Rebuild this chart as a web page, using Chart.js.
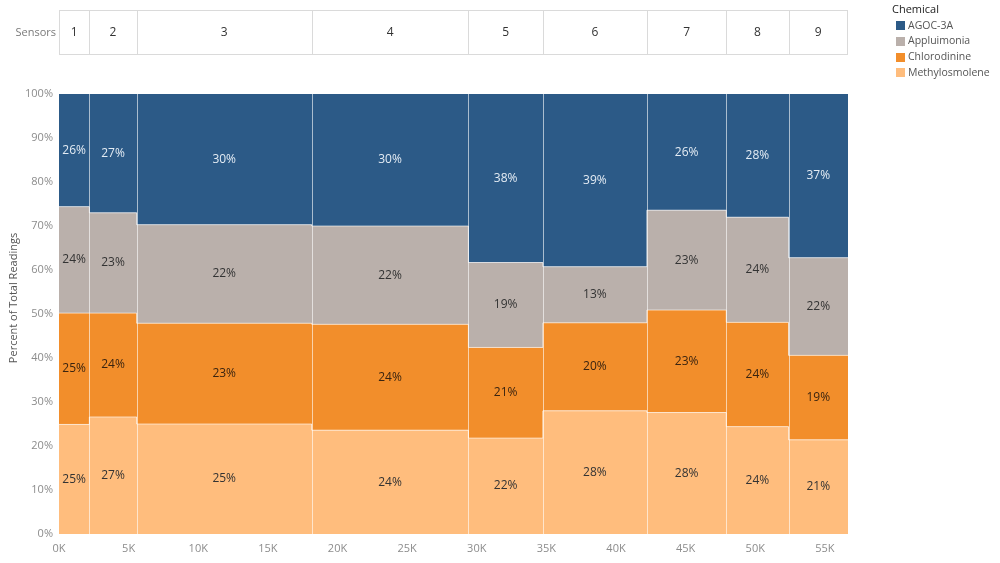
<!DOCTYPE html>
<html><head><meta charset="utf-8">
<script src="https://cdn.jsdelivr.net/npm/chart.js@4.4.1/dist/chart.umd.min.js"></script>
<style>html,body{margin:0;padding:0;background:#fff;} #wrap{position:relative;width:1000px;height:563px;}</style>
</head><body><div id="wrap"><canvas id="c" width="1000" height="563"></canvas></div>
<script>
// ---- data ----
const sensors = ['1','2','3','4','5','6','7','8','9'];
const sensorReadings = [2180, 3400, 12570, 11250, 5350, 7470, 5700, 4470, 4270];
const chemicals = ['AGOC-3A','Appluimonia','Chlorodinine','Methylosmolene'];
const agoc3a        = [25.6, 27.0, 29.7, 30.0, 38.3, 39.25, 26.4, 28.0, 37.2];
const appluimonia   = [24.2, 22.8, 22.4, 22.35, 19.3, 12.75, 22.7, 23.9, 22.2];
const chlorodinine  = [25.3, 23.6, 22.9, 24.05, 20.6, 20.0, 23.3, 23.7, 19.2];
const methylosmolene= [24.9, 26.6, 25.0, 23.6, 21.8, 28.0, 27.6, 24.4, 21.4];
const yTicks = [0,10,20,30,40,50,60,70,80,90,100];
const xTickStep = 5000;

// ---- styles ----
const FONT = '"Open Sans", "DejaVu Sans", sans-serif';
const colors = {
  'AGOC-3A': '#2c5a87',
  'Appluimonia': '#bab0ab',
  'Chlorodinine': '#f28e2b',
  'Methylosmolene': '#ffbd7d'
};
const labelColors = {
  'AGOC-3A': '#e4ecf4',
  'Appluimonia': '#333333',
  'Chlorodinine': '#3a2410',
  'Methylosmolene': '#333333'
};

// ---- derived ----
const valuesByChem = {
  'AGOC-3A': agoc3a, 'Appluimonia': appluimonia,
  'Chlorodinine': chlorodinine, 'Methylosmolene': methylosmolene
};
const stackOrder = ['Methylosmolene','Chlorodinine','Appluimonia','AGOC-3A'];
const starts = [];
let acc = 0;
sensorReadings.forEach(v => { starts.push(acc); acc += v; });
const total = acc;
const bottoms = {}, tops = {};
const running = sensors.map(() => 0);
stackOrder.forEach(ch => {
  bottoms[ch] = running.slice();
  valuesByChem[ch].forEach((v, i) => running[i] += v);
  tops[ch] = running.slice();
});

const datasets = stackOrder.map((ch, k) => {
  const pts = sensors.map((s, i) => ({x: starts[i], y: tops[ch][i]}));
  pts.push({x: total, y: tops[ch][sensors.length - 1]});
  return {
    label: ch,
    data: pts,
    stepped: true,
    fill: k === 0 ? 'origin' : '-1',
    backgroundColor: colors[ch],
    borderColor: ch === 'AGOC-3A' ? 'rgba(0,0,0,0)' : 'rgba(255,255,255,0.6)',
    borderWidth: ch === 'AGOC-3A' ? 0 : 1,
    pointRadius: 0,
    pointHoverRadius: 0,
    tension: 0
  };
});

const overlay = {
  id: 'overlay',
  afterDatasetsDraw(chart) {
    const ctx = chart.ctx, xs = chart.scales.x, ys = chart.scales.y, area = chart.chartArea;
    ctx.save();
    ctx.strokeStyle = 'rgba(255,255,255,0.6)';
    ctx.lineWidth = 1;
    for (let i = 1; i < sensors.length; i++) {
      const px = Math.round(xs.getPixelForValue(starts[i])) + 0.5;
      ctx.beginPath(); ctx.moveTo(px, area.top); ctx.lineTo(px, area.bottom); ctx.stroke();
    }
    ctx.font = '12px ' + FONT;
    ctx.textAlign = 'center';
    ctx.textBaseline = 'middle';
    stackOrder.forEach(ch => {
      sensors.forEach((s, i) => {
        const cx = xs.getPixelForValue(starts[i] + sensorReadings[i] / 2);
        const cy = ys.getPixelForValue((bottoms[ch][i] + tops[ch][i]) / 2);
        ctx.fillStyle = labelColors[ch];
        ctx.fillText(Math.round(valuesByChem[ch][i]) + '%', cx, cy);
      });
    });
    ctx.restore();
  },
  afterDraw(chart) {
    const ctx = chart.ctx, xs = chart.scales.x;
    ctx.save();
    // header row
    const top = 10.5, bot = 54.5;
    const left = Math.round(xs.getPixelForValue(0)) + 0.5;
    const right = Math.round(xs.getPixelForValue(total)) - 0.5;
    ctx.strokeStyle = '#dadada';
    ctx.lineWidth = 1;
    ctx.strokeRect(left, top, right - left, bot - top);
    for (let i = 1; i < sensors.length; i++) {
      const px = Math.round(xs.getPixelForValue(starts[i])) + 0.5;
      ctx.beginPath(); ctx.moveTo(px, top); ctx.lineTo(px, bot); ctx.stroke();
    }
    ctx.textBaseline = 'middle';
    ctx.textAlign = 'center';
    ctx.font = '12px ' + FONT;
    ctx.fillStyle = '#333';
    sensors.forEach((s, i) => {
      ctx.fillText(s, xs.getPixelForValue(starts[i] + sensorReadings[i] / 2), 32.5);
    });
    ctx.textAlign = 'right';
    ctx.font = '11px ' + FONT;
    ctx.fillStyle = '#7a7a7a';
    ctx.fillText('Sensors', 56, 32.5);
    // legend
    ctx.textAlign = 'left';
    ctx.font = '11px ' + FONT;
    ctx.fillStyle = '#222';
    ctx.fillText('Chemical', 892, 10);
    ctx.font = '10.5px ' + FONT;
    chemicals.forEach((ch, k) => {
      const cy = 25.7 + k * 15.7;
      ctx.fillStyle = colors[ch];
      ctx.fillRect(896, Math.round(cy - 4.5), 9, 9);
      ctx.fillStyle = '#555';
      ctx.fillText(ch, 908, cy);
    });
    // y axis title
    ctx.translate(14, 298);
    ctx.rotate(-Math.PI / 2);
    ctx.textAlign = 'center';
    ctx.fillStyle = '#555';
    ctx.font = '11px ' + FONT;
    ctx.fillText('Percent of Total Readings', 0, 0);
    ctx.restore();
  }
};

Chart.defaults.font.family = FONT;
new Chart(document.getElementById('c'), {
  type: 'line',
  data: { datasets },
  options: {
    responsive: false,
    devicePixelRatio: 1,
    animation: false,
    layout: { padding: { top: 94, right: 152, left: 0, bottom: 0 } },
    plugins: { legend: { display: false }, tooltip: { enabled: false }, filler: { propagate: false } },
    scales: {
      x: {
        type: 'linear', min: 0, max: total,
        grid: { display: false, drawTicks: false },
        border: { display: false },
        afterBuildTicks: (scale) => {
          const t = [];
          for (let v = 0; v <= total; v += xTickStep) t.push({value: v});
          scale.ticks = t;
        },
        ticks: {
          padding: 8, color: '#8c8c8c', font: { size: 11 }, maxRotation: 0, autoSkip: false,
          callback: (v) => (v / 1000) + 'K'
        },
        afterFit: (scale) => { scale.height = 29; }
      },
      y: {
        type: 'linear', min: 0, max: 100,
        grid: { display: false, drawTicks: false },
        border: { display: false },
        afterBuildTicks: (scale) => { scale.ticks = yTicks.map(v => ({value: v})); },
        ticks: { padding: 6, color: '#8c8c8c', font: { size: 11 }, callback: (v) => v + '%' },
        afterFit: (scale) => { scale.width = 59; }
      }
    }
  },
  plugins: [overlay]
});
</script></body></html>
